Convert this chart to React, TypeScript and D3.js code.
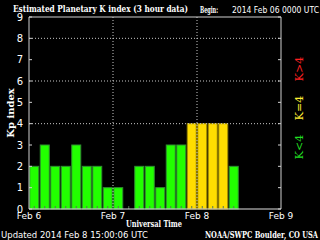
import React from "react";
import * as d3 from "d3";

const kpValues = [2, 3, 2, 2, 3, 2, 2, 1, 1, 0, 2, 2, 1, 3, 3, 4, 4, 4, 4, 2];
const dayLabels = ["Feb 6", "Feb 7", "Feb 8", "Feb 9"];
const yTicks = [0, 1, 2, 3, 4, 5, 6, 7, 8, 9];
const gridLevels = [4, 6, 8];

const W = 320;
const H = 240;
const left = 29;
const right = 281;
const top = 17;
const bottom = 209;

function colorFor(v: number) {
  if (v > 4) return { fill: "#ff2020", stroke: "#992020" };
  if (v === 4) return { fill: "#ffdd00", stroke: "#a08a00" };
  return { fill: "#22ff00", stroke: "#2f8f2f" };
}

export default function App() {
  const x = d3.scaleLinear().domain([0, 24]).range([left, right]);
  const y = d3.scaleLinear().domain([0, 9]).range([bottom, top]);
  const slot = x(1) - x(0);
  const barW = slot - 1.5;
  const serif = "'DejaVu Serif', 'Liberation Serif', serif";
  const sans = "'DejaVu Sans', 'Liberation Sans', sans-serif";

  return (
    <svg width={W} height={H} style={{ position: "absolute", left: 0, top: 0, background: "#000" }}>
      <rect x={0} y={0} width={W} height={H} fill="#000" />
      {/* title */}
      <text x={13} y={12} fontFamily={serif} fontWeight="bold" fontSize={10} fill="#fff" textLength={175} lengthAdjust="spacingAndGlyphs">
        Estimated Planetary K index (3 hour data)
      </text>
      <text x={200} y={13} fontFamily={serif} fontWeight="bold" fontSize={8.5} fill="#fff" textLength={18} lengthAdjust="spacingAndGlyphs">
        Begin:
      </text>
      <text x={232} y={13} fontFamily={sans} fontSize={9} fill="#fff" textLength={87} lengthAdjust="spacingAndGlyphs">
        2014 Feb 06 0000 UTC
      </text>

      {/* bars */}
      {kpValues.map((v, i) => {
        if (v <= 0) return null;
        const c = colorFor(v);
        return (
          <rect
            key={i}
            x={x(i) + 0.75}
            y={y(v)}
            width={barW}
            height={y(0) - y(v)}
            fill={c.fill}
            stroke={c.stroke}
            strokeWidth={1}
          />
        );
      })}

      {/* bottom minor ticks */}
      {kpValues.map((_, i) => (
        <line key={"mt" + i} x1={x(i + 0.5)} x2={x(i + 0.5)} y1={bottom} y2={bottom - 3} stroke="#557755" strokeWidth={1} />
      ))}

      {/* dotted grid */}
      {gridLevels.map((g) => (
        <line key={"g" + g} x1={left} x2={right} y1={y(g)} y2={y(g)} stroke="#c8c8c8" strokeWidth={1} strokeDasharray="1,2" />
      ))}
      {[8, 16].map((d) => (
        <line key={"v" + d} x1={x(d)} x2={x(d)} y1={top} y2={bottom} stroke="#c8c8c8" strokeWidth={1} strokeDasharray="1,2" />
      ))}

      {/* frame */}
      <line x1={left} x2={right} y1={top} y2={top} stroke="#d0d0d0" />
      <line x1={left} x2={left} y1={top} y2={bottom} stroke="#d0d0d0" />
      <line x1={right} x2={right} y1={top} y2={bottom} stroke="#d0d0d0" />
      <line x1={left} x2={right} y1={bottom} y2={bottom} stroke="#e0e0e0" />

      {/* y ticks */}
      {yTicks.map((t) => (
        <g key={"yt" + t}>
          <line x1={left} x2={left + 3} y1={y(t)} y2={y(t)} stroke="#d0d0d0" />
          <line x1={right - 3} x2={right} y1={y(t)} y2={y(t)} stroke="#d0d0d0" />
          <text x={23} y={y(t) + 3.5} textAnchor="end" fontFamily={sans} fontSize={10} fill="#fff">
            {t}
          </text>
        </g>
      ))}

      {/* x labels */}
      {dayLabels.map((d, i) => (
        <text key={d} x={x(i * 8)} y={219} textAnchor="middle" fontFamily={sans} fontSize={9} fill="#fff">
          {d}
        </text>
      ))}

      <text transform={`translate(14,${y(4.5)}) rotate(-90)`} textAnchor="middle" fontFamily={serif} fontWeight="bold" fontSize={10} fill="#fff">
        Kp index
      </text>
      <text x={154} y={227} textAnchor="middle" fontFamily={serif} fontWeight="bold" fontSize={9} fill="#fff" textLength={56} lengthAdjust="spacingAndGlyphs">
        Universal Time
      </text>

      {/* right-side legend */}
      <text transform={`translate(303,69) rotate(-90)`} textAnchor="middle" fontFamily={serif} fontSize={11} fill="#ff2020">
        {"K>4"}
      </text>
      <text transform={`translate(303,108) rotate(-90)`} textAnchor="middle" fontFamily={serif} fontSize={11} fill="#ffee33">
        {"K=4"}
      </text>
      <text transform={`translate(303,147) rotate(-90)`} textAnchor="middle" fontFamily={serif} fontSize={11} fill="#22dd22">
        {"K<4"}
      </text>

      {/* footer */}
      <text x={1} y={238} fontFamily={sans} fontSize={9} fill="#fff" textLength={147} lengthAdjust="spacingAndGlyphs">
        Updated 2014 Feb  8 15:00:06 UTC
      </text>
      <text x={318} y={238} textAnchor="end" fontFamily={serif} fontWeight="bold" fontSize={9} fill="#fff" textLength={113} lengthAdjust="spacingAndGlyphs">
        NOAA/SWPC Boulder, CO USA
      </text>
    </svg>
  );
}
